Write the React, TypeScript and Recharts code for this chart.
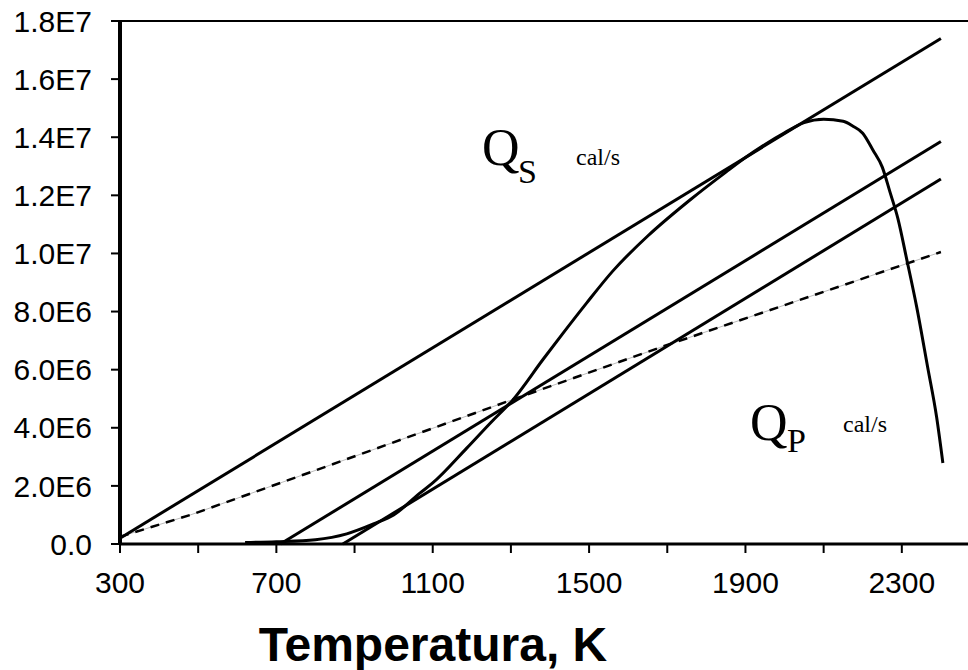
import { Line, LineChart, ReferenceLine, XAxis, YAxis } from "recharts";

// temperature (K) / heat rate (cal/s)
const lineA_T = [300, 2400];
const lineA_Q = [0.2e6, 17.4e6];

const lineB_T = [710, 2400];
const lineB_Q = [0, 13.85e6];

const lineC_T = [870, 2400];
const lineC_Q = [0, 12.56e6];

const qp_T = [300, 480, 760, 1300, 1700, 2400];
const qp_Q = [0.25e6, 1.0e6, 2.34e6, 4.95e6, 6.85e6, 10.05e6];

const qs_T = [
	620, 700, 800, 880, 950, 1000, 1067, 1100, 1187, 1250, 1305, 1382, 1433,
	1494, 1561, 1650, 1758, 1850, 1900, 1950, 2000, 2050, 2100, 2150, 2175,
	2200, 2226, 2250, 2270, 2290, 2313, 2338, 2366, 2389, 2405,
];
const qs_Q = [
	0.05e6, 0.08e6, 0.15e6, 0.35e6, 0.7e6, 1.0e6, 1.75e6, 2.1e6, 3.3e6, 4.2e6,
	4.96e6, 6.35e6, 7.25e6, 8.3e6, 9.4e6, 10.6e6, 11.84e6, 12.8e6, 13.3e6,
	13.75e6, 14.15e6, 14.5e6, 14.62e6, 14.55e6, 14.38e6, 14.14e6, 13.56e6,
	12.97e6, 12.1e6, 11.2e6, 9.77e6, 8.16e6, 6.09e6, 4.37e6, 2.79e6,
];

const xTicks = [300, 500, 700, 900, 1100, 1300, 1500, 1700, 1900, 2100, 2300, 2500];
const yTicks = [0, 2e6, 4e6, 6e6, 8e6, 10e6, 12e6, 14e6, 16e6, 18e6];

const toPoints = (t: number[], q: number[]) =>
	t.map((x, i) => ({ t: x, q: q[i] }));

const fmtY = (v: number) =>
	v === 0 ? "0.0" : v.toExponential(1).replace("e+", "E");

const fmtX = (v: number) => ((v - 300) % 400 === 0 ? String(v) : "");

const axisFont = {
	fontFamily: "'Liberation Sans', Arial, sans-serif",
	fontSize: 30,
	fill: "#000",
};

const serif = "'Liberation Serif', 'Times New Roman', serif";

export default function App() {
	return (
		<div
			style={{
				position: "fixed",
				left: 0,
				top: 0,
				width: 968,
				height: 670,
				overflow: "hidden",
				background: "#fff",
			}}
		>
			<LineChart
				width={1000}
				height={670}
				margin={{ top: 21, right: 20, bottom: 86, left: 20 }}
			>
				<XAxis
					dataKey="t"
					type="number"
					domain={[300, 2500]}
					ticks={xTicks}
					tickFormatter={fmtX}
					interval={0}
					allowDataOverflow
					height={40}
					tickSize={9}
					tickMargin={19}
					tick={axisFont}
					axisLine={{ stroke: "#000", strokeWidth: 3 }}
					tickLine={{ stroke: "#000", strokeWidth: 2 }}
				/>
				<YAxis
					type="number"
					domain={[0, 18e6]}
					ticks={yTicks}
					tickFormatter={fmtY}
					interval={0}
					width={100}
					tickSize={9}
					tickMargin={19}
					tick={axisFont}
					axisLine={{ stroke: "#000", strokeWidth: 4 }}
					tickLine={{ stroke: "#000", strokeWidth: 2 }}
				/>
				<ReferenceLine y={18e6} stroke="#000" strokeWidth={2} />
				<Line
					data={toPoints(qp_T, qp_Q)}
					dataKey="q"
					type="linear"
					stroke="#bbb"
					strokeWidth={1}
					dot={false}
					isAnimationActive={false}
				/>
				<Line
					data={toPoints(qp_T, qp_Q)}
					dataKey="q"
					type="linear"
					stroke="#000"
					strokeWidth={2.5}
					strokeDasharray="9 7"
					dot={false}
					isAnimationActive={false}
				/>
				<Line
					data={toPoints(lineA_T, lineA_Q)}
					dataKey="q"
					type="linear"
					stroke="#000"
					strokeWidth={3}
					dot={false}
					isAnimationActive={false}
				/>
				<Line
					data={toPoints(lineB_T, lineB_Q)}
					dataKey="q"
					type="linear"
					stroke="#000"
					strokeWidth={3}
					dot={false}
					isAnimationActive={false}
				/>
				<Line
					data={toPoints(lineC_T, lineC_Q)}
					dataKey="q"
					type="linear"
					stroke="#000"
					strokeWidth={3}
					dot={false}
					isAnimationActive={false}
				/>
				<Line
					data={toPoints(qs_T, qs_Q)}
					dataKey="q"
					type="monotone"
					stroke="#000"
					strokeWidth={3}
					dot={false}
					isAnimationActive={false}
				/>
			</LineChart>
			<svg
				width={968}
				height={670}
				style={{ position: "absolute", left: 0, top: 0, pointerEvents: "none" }}
			>
				<text x={482} y={165} fontFamily={serif} fontSize={52}>
					Q
				</text>
				<text x={518} y={183} fontFamily={serif} fontSize={34}>
					S
				</text>
				<text x={576} y={165} fontFamily={serif} fontSize={24}>
					cal/s
				</text>
				<text x={750} y={440} fontFamily={serif} fontSize={52}>
					Q
				</text>
				<text x={787} y={452} fontFamily={serif} fontSize={34}>
					P
				</text>
				<text x={843} y={432} fontFamily={serif} fontSize={24}>
					cal/s
				</text>
				<text
					x={433}
					y={661}
					textAnchor="middle"
					fontFamily="'Liberation Sans', Arial, sans-serif"
					fontWeight="bold"
					fontSize={48}
				>
					Temperatura, K
				</text>
			</svg>
		</div>
	);
}
